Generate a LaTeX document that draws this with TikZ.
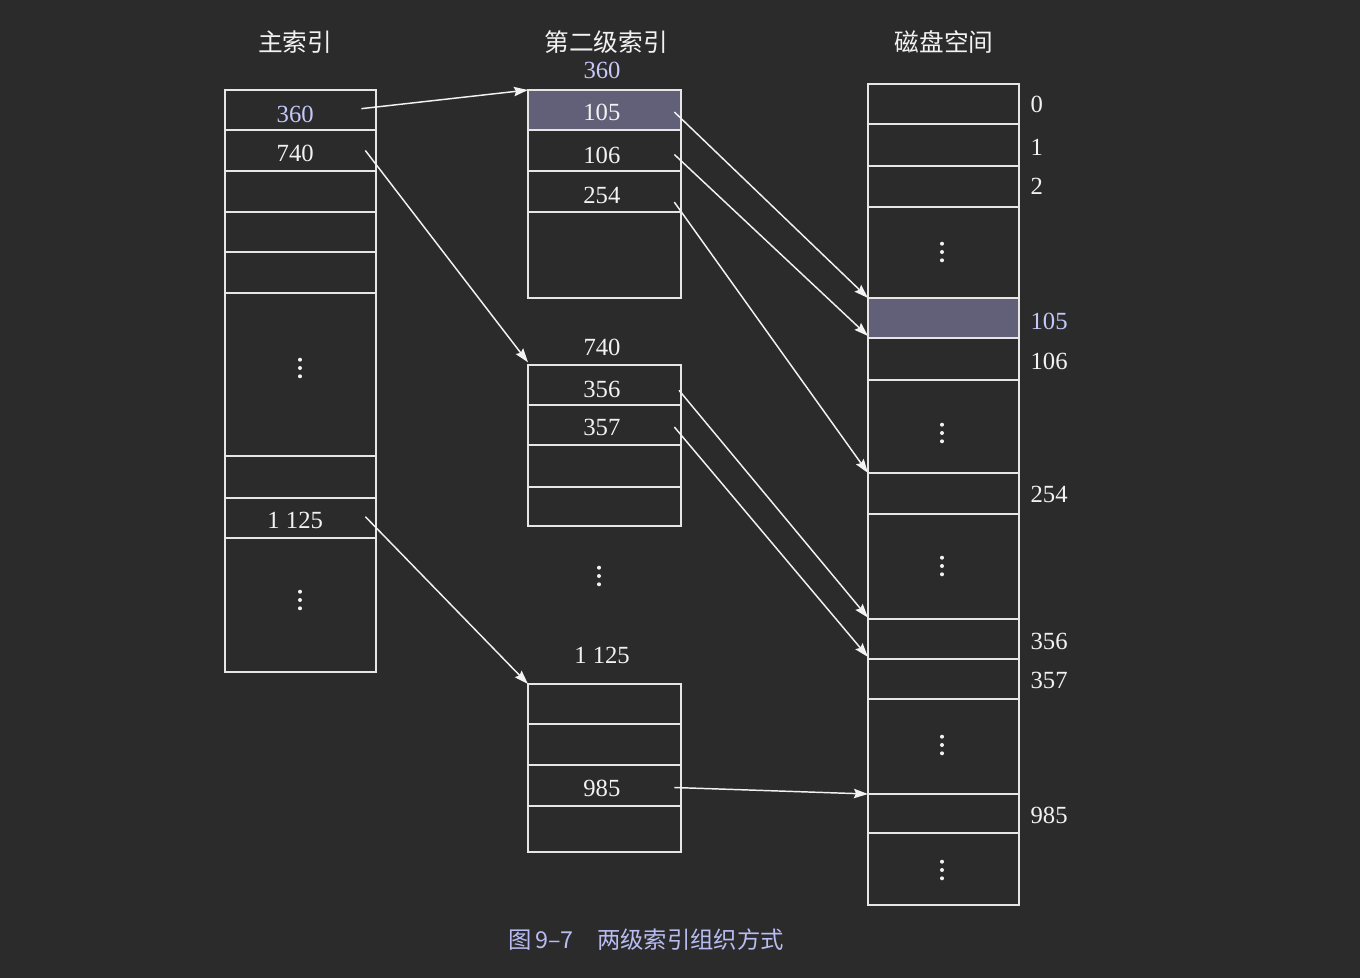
\documentclass[tikz,border=0pt]{standalone}
\usepackage{fontspec}
\setmainfont{Liberation Serif}
\newfontfamily\cjk{Noto Sans CJK SC}
\usetikzlibrary{arrows.meta}
\definecolor{bg}{HTML}{2B2B2B}
\definecolor{linec}{HTML}{E6E6E6}
\definecolor{txt}{HTML}{F2F2F2}
\definecolor{bluet}{HTML}{C4C8FA}
\definecolor{hl}{HTML}{626078}
\definecolor{capc}{HTML}{B8BCF2}
\newcommand\lt[2]{\raisebox{#2}{#1}\hspace*{8pt}}
\newcommand\mt[2]{\raisebox{#2}{#1}\hspace*{4pt}}
\begin{document}
\begin{tikzpicture}[x=0.75pt,y=-0.75pt,
  cell/.style={draw=linec, line width=1.1pt, anchor=north west, minimum width=113.25pt,
    inner sep=0pt, outer sep=0pt, text=txt, text height=13pt, text depth=0pt,
    font=\fontsize{18.5pt}{18.5pt}\selectfont},
  mcell/.style={cell, minimum width=114.75pt},
  h/.style={minimum height=#1*0.75pt},
  hlcell/.style={fill=hl},
  lab/.style={text=txt, font=\fontsize{18.5pt}{18.5pt}\selectfont, inner sep=0pt},
  blab/.style={lab, text=bluet},
  title/.style={text=txt, font=\cjk\fontsize{18.5pt}{18.5pt}\selectfont, inner sep=0pt},
  arr/.style={draw=txt, line width=1.1pt, -{Stealth[length=10.5pt,width=7pt,inset=1.5pt]}},
  vdots/.pic={\fill[txt] (0,-8.3) circle (1.5pt) (0,0) circle (1.5pt) (0,8.3) circle (1.5pt);}
]
\fill[bg] (0,0) rectangle (1360,978);
\useasboundingbox (0,0) rectangle (1360,978);

% titles
\node[title] (t1) at (295,42) {主索引};
\node[title] (t2) at (606,42) {第二级索引};
\node[title] (t3) at (944,42) {磁盘空间};

% left column
\node[cell,h=40] (L1) at (225,90) {\lt{\textcolor{bluet}{360}}{-2.5pt}};
\node[cell,h=41] (L2) at (225,130) {\lt{740}{-1.5pt}};
\node[cell,h=41] (L3) at (225,171) {};
\node[cell,h=40] (L4) at (225,212) {};
\node[cell,h=41] (L5) at (225,252) {};
\node[cell,h=163] (L6) at (225,293) {};
\node[cell,h=42] (L7) at (225,456) {};
\node[cell,h=40] (L8) at (225,498) {\lt{1 125}{-1pt}};
\node[cell,h=134] (L9) at (225,538) {};
\pic at (300,368) {vdots};
\pic at (300,600) {vdots};

% middle block 1
\node[blab] (m360) at (602,70) {360};
\node[mcell,h=40,hlcell] (M1) at (528,90) {\mt{105}{-1.5pt}};
\node[mcell,h=41] (M2) at (528,130) {\mt{106}{-3.5pt}};
\node[mcell,h=41] (M3) at (528,171) {\mt{254}{-2.5pt}};
\node[mcell,h=86] (M4) at (528,212) {};

% middle block 2
\node[lab] (m740) at (602,347) {740};
\node[mcell,h=40] (N1) at (528,365) {\mt{356}{-2.5pt}};
\node[mcell,h=40] (N2) at (528,405) {\mt{357}{-1.5pt}};
\node[mcell,h=42] (N3) at (528,445) {};
\node[mcell,h=39] (N4) at (528,487) {};

\pic at (599,576) {vdots};

% middle block 3
\node[lab] (m1125) at (602,655) {1 125};
\node[mcell,h=40] (P1) at (528,684) {};
\node[mcell,h=41] (P2) at (528,724) {};
\node[mcell,h=41] (P3) at (528,765) {\mt{985}{-1.5pt}};
\node[mcell,h=46] (P4) at (528,806) {};

% right column
\node[cell,h=40] (R0) at (868,84) {};
\node[cell,h=42] (R1) at (868,124) {};
\node[cell,h=41] (R2) at (868,166) {};
\node[cell,h=91] (R3) at (868,207) {};
\node[cell,h=40,hlcell] (R105) at (868,298) {};
\node[cell,h=42] (R106) at (868,338) {};
\node[cell,h=93] (R7) at (868,380) {};
\node[cell,h=41] (R254) at (868,473) {};
\node[cell,h=105] (R9) at (868,514) {};
\node[cell,h=40] (R356) at (868,619) {};
\node[cell,h=40] (R357) at (868,659) {};
\node[cell,h=95] (R12) at (868,699) {};
\node[cell,h=39] (R985) at (868,794) {};
\node[cell,h=72] (R14) at (868,833) {};
\pic at (942,252) {vdots};
\pic at (942,433) {vdots};
\pic at (942,566) {vdots};
\pic at (942,745) {vdots};
\pic at (942,870) {vdots};

% right labels
\node[lab,anchor=west] (r0) at ([xshift=8.5pt]R0.east) {0};
\node[lab,anchor=west] (r1) at ([xshift=8.5pt,yshift=-1.5pt]R1.east) {1};
\node[lab,anchor=west] (r2) at ([xshift=8.5pt]R2.east) {2};
\node[blab,anchor=west] (r105) at ([xshift=8.5pt,yshift=-2.5pt]R105.east) {105};
\node[lab,anchor=west] (r106) at ([xshift=8.5pt,yshift=-1.5pt]R106.east) {106};
\node[lab,anchor=west] (r254) at ([xshift=8.5pt,yshift=-1pt]R254.east) {254};
\node[lab,anchor=west] (r356) at ([xshift=8.5pt,yshift=-1.5pt]R356.east) {356};
\node[lab,anchor=west] (r357) at ([xshift=8.5pt,yshift=-1pt]R357.east) {357};
\node[lab,anchor=west] (r985) at ([xshift=8.5pt,yshift=-1.5pt]R985.east) {985};

% arrows
\draw[arr] ([xshift=-11pt,yshift=1pt]L1.east) -- (M1.north west);
\draw[arr] ([xshift=-8pt]L2.east) -- ([yshift=2pt]N1.north west);
\draw[arr] ([xshift=-8pt,yshift=1pt]L8.east) -- (P1.north west);
\draw[arr] ([xshift=-5pt,yshift=-1.5pt]M1.east) -- (R105.north west);
\draw[arr] ([xshift=-5pt,yshift=-3pt]M2.east) -- ([yshift=1.5pt]R106.north west);
\draw[arr] ([xshift=-5pt,yshift=-8pt]M3.east) -- (R254.north west);
\draw[arr] ([xshift=-1.5pt,yshift=-4pt]N1.east) -- ([yshift=1pt]R356.north west);
\draw[arr] ([xshift=-5pt,yshift=-1.5pt]N2.east) -- ([yshift=1.5pt]R357.north west);
\draw[arr] ([xshift=-5pt,yshift=-1.5pt]P3.east) -- (R985.north west);

% caption
\node[text=capc, font=\cjk\fontsize{17.5pt}{17.5pt}\selectfont, inner sep=0pt] (cap) at (646,940) {图\,9–7\quad 两级索引组织方式};
\end{tikzpicture}
\end{document}
